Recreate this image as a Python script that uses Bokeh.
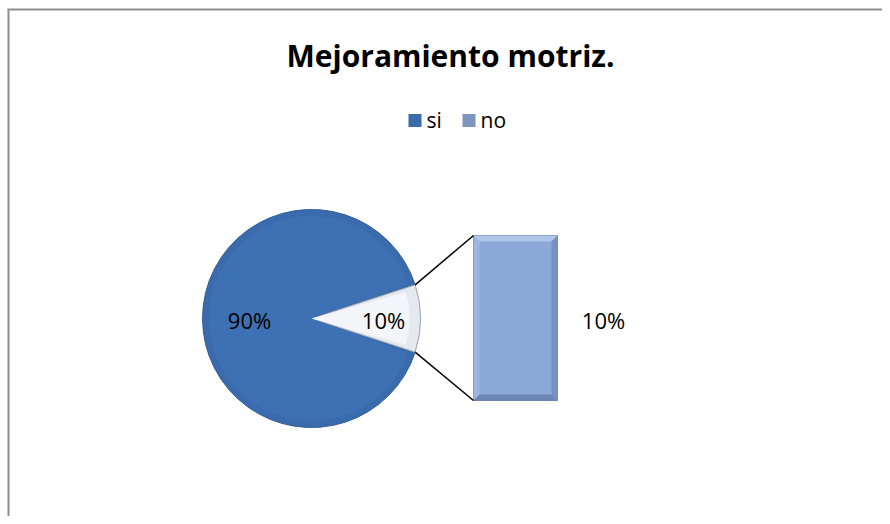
import math
from bokeh.plotting import figure
from bokeh.models import Range1d
from bokeh.core.properties import value
from bokeh.embed import file_html
from bokeh.resources import INLINE

# ---- data ----
categories = ["si", "no"]
values = [90, 10]
labels = ["90%", "10%"]
bar_label = "10%"
title = "Mejoramiento motriz."

W, H = 882, 516
FONT = "Open Sans"

p = figure(width=W, height=H, output_backend="svg", toolbar_location=None,
           x_range=Range1d(0, W), y_range=Range1d(0, H), min_border=0)
p.axis.visible = False
p.grid.visible = False
p.outline_line_color = None
p.background_fill_color = "white"

def X(px):  # reference px -> data
    return px
def Y(py):
    return H - py

# frame border (top + left visible only)
p.segment(x0=[X(8), X(7)], y0=[Y(9), Y(9)], x1=[X(8), X(900)], y1=[Y(600), Y(9)],
          line_color="#8e8e8e", line_width=2)

# title
p.text(x=[X(450)], y=[Y(55)], text=[title], text_font=value(FONT),
       text_font_size="30px", text_font_style="bold", text_align="center",
       text_baseline="middle", text_color="black")

# legend
leg_colors = ["#3B6BAA", "#7E95BF"]
leg_x = [408, 462]
for i, c in enumerate(categories):
    p.rect(x=[X(leg_x[i] + 6.5)], y=[Y(120)], width=13, height=13,
           fill_color=leg_colors[i], line_color=None)
    p.text(x=[X(leg_x[i] + 18)], y=[Y(119)], text=[c], text_font=value(FONT),
           text_font_size="21px", text_baseline="middle", text_color="black")

# pie
cx, cy, r = X(311), Y(318), 109
total = sum(values)
half = values[1] / total * math.pi  # "no" slice centred at angle 0
starts = [half, -half]
ends = [2 * math.pi - half, half]
pie_fill = ["#3A6CAD", "#E4E8EF"]
pie_line = ["#2F5C97", "#9BA1AB"]
for i in range(2):
    p.wedge(x=[cx], y=[cy], radius=r, start_angle=starts[i], end_angle=ends[i],
            fill_color=pie_fill[i], line_color=pie_line[i], line_width=1)
# subtle inner highlight
p.wedge(x=[cx], y=[cy], radius=r * 0.94, start_angle=starts[0] + 0.03, end_angle=ends[0] - 0.03,
        fill_color="#3E71B3", line_color=None)
p.wedge(x=[cx], y=[cy], radius=r * 0.9, start_angle=starts[1] + 0.04, end_angle=ends[1] - 0.04,
        fill_color="#F3F5F9", line_color=None)

# bar (secondary)
bx0, bx1 = X(473), X(557)
by_bot, by_top = Y(400), Y(235)
bar_top = by_bot + (by_top - by_bot) * values[1] / values[1]
p.quad(left=[bx0], right=[bx1], bottom=[by_bot], top=[bar_top],
       fill_color="#8CA8D8", line_color="#6F86AF", line_width=1)
bev = 6
p.patch(x=[bx0, bx1, bx1 - bev, bx0 + bev], y=[bar_top, bar_top, bar_top - bev, bar_top - bev],
        fill_color="#AFC5EA", line_color=None)
p.patch(x=[bx0, bx0 + bev, bx0 + bev, bx0], y=[bar_top, bar_top - bev, by_bot + bev, by_bot],
        fill_color="#9DB6E0", line_color=None)
p.patch(x=[bx1, bx1 - bev, bx1 - bev, bx1], y=[bar_top, bar_top - bev, by_bot + bev, by_bot],
        fill_color="#7792C2", line_color=None)
p.patch(x=[bx0, bx0 + bev, bx1 - bev, bx1], y=[by_bot, by_bot + bev, by_bot + bev, by_bot],
        fill_color="#6C86B3", line_color=None)

# connector lines
ex = cx + r * math.cos(half)
ey_t = cy + r * math.sin(half)
ey_b = cy - r * math.sin(half)
p.segment(x0=[ex, ex], y0=[ey_t, ey_b], x1=[bx0, bx0], y1=[bar_top, by_bot],
          line_color="black", line_width=1.5)

# data labels
p.text(x=[X(249), X(383), X(603)], y=[Y(319)] * 3, text=[labels[0], labels[1], bar_label],
       text_font=value(FONT), text_font_size="22px", text_align="center",
       text_baseline="middle", text_color="black")

open("out.html", "w").write(file_html(p, INLINE))
